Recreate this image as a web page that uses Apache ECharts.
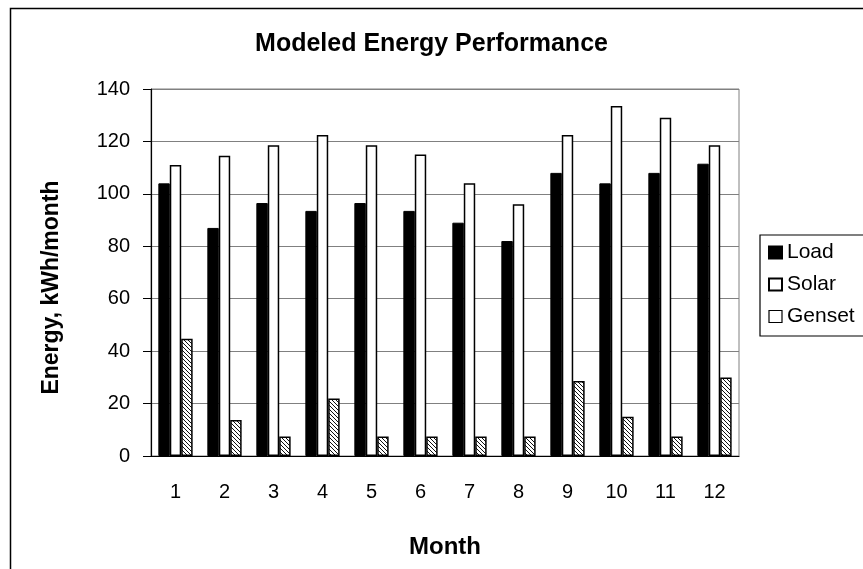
<!DOCTYPE html>
<html>
<head>
<meta charset="utf-8">
<script src="https://cdn.jsdelivr.net/npm/echarts@6/dist/echarts.min.js"></script>
<style>
html,body{margin:0;padding:0;background:#fff;}
#chart{width:863px;height:569px;}
</style>
</head>
<body>
<div id="chart"></div>
<script>
const months = ['1','2','3','4','5','6','7','8','9','10','11','12'];
const loadValues = [104, 87, 96.5, 93.5, 96.5, 93.5, 89, 82, 108, 104, 108, 111.5];
const solarValues = [111, 114.5, 118.5, 122.5, 118.5, 115, 104, 96, 122.5, 133.5, 129, 118.5];
const gensetValues = [44.7, 13.7, 7.4, 21.9, 7.4, 7.4, 7.4, 7.4, 28.6, 15, 7.4, 29.9];
const yTicks = [0, 20, 40, 60, 80, 100, 120, 140];

function hatch() {
  const s = 4;
  const c = document.createElement('canvas');
  c.width = s; c.height = s;
  const g = c.getContext('2d');
  g.fillStyle = '#fff';
  g.fillRect(0, 0, s, s);
  g.strokeStyle = '#111';
  g.lineWidth = 1;
  g.beginPath();
  g.moveTo(-1, -1); g.lineTo(s + 1, s + 1);
  g.moveTo(-1, s - 1); g.lineTo(1, s + 1);
  g.moveTo(s - 1, -1); g.lineTo(s + 1, 1);
  g.stroke();
  return c;
}

const chart = echarts.init(document.getElementById('chart'));
const font = 'Liberation Sans, Arial, sans-serif';
chart.setOption({
  animation: false,
  backgroundColor: '#fff',
  textStyle: { fontFamily: font },
  graphic: [{
    type: 'rect', z: 100, silent: true,
    shape: { x: 10.5, y: 8.5, width: 900, height: 620 },
    style: { fill: 'none', stroke: '#000', lineWidth: 1.5 }
  }],
  title: {
    text: 'Modeled Energy Performance',
    left: 'center', top: 32, padding: 0,
    textStyle: { fontFamily: font, fontWeight: 'bold', fontSize: 25, color: '#000' }
  },
  legend: {
    orient: 'vertical',
    left: 760, top: 235,
    padding: [7, 20, 9, 8],
    itemGap: 11,
    itemWidth: 13, itemHeight: 12,
    borderColor: '#000', borderWidth: 1.2,
    backgroundColor: '#fff',
    textStyle: { fontFamily: font, fontSize: 21, color: '#000' },
    data: [
      { name: 'Load', icon: 'rect' },
      { name: 'Solar', icon: 'rect' },
      { name: 'Genset', icon: 'rect', itemStyle: { color: '#fff', borderColor: '#000', borderWidth: 1.2 } }
    ]
  },
  grid: {
    left: 151, right: 124, top: 89, bottom: 113,
    show: true, borderColor: '#808080', borderWidth: 1
  },
  xAxis: {
    type: 'category',
    data: months,
    name: 'Month',
    nameLocation: 'middle',
    nameGap: 79,
    nameTextStyle: { fontFamily: font, fontWeight: 'bold', fontSize: 24, color: '#000' },
    axisLine: { lineStyle: { color: '#000', width: 1.2 } },
    axisTick: { length: 6, lineStyle: { color: '#000' } },
    axisLabel: { margin: 26, fontFamily: font, fontSize: 20, color: '#000' }
  },
  yAxis: {
    type: 'value',
    min: yTicks[0], max: yTicks[yTicks.length - 1], interval: 20,
    name: 'Energy, kWh/month',
    nameLocation: 'middle',
    nameGap: 88,
    nameTextStyle: { fontFamily: font, fontWeight: 'bold', fontSize: 23, color: '#000', padding: [0, 30, 0, 0] },
    axisLine: { show: true, lineStyle: { color: '#000', width: 1.2 } },
    axisTick: { show: true, length: 8, lineStyle: { color: '#000' } },
    axisLabel: { margin: 21, fontFamily: font, fontSize: 20, color: '#000' },
    splitLine: { lineStyle: { color: '#808080', width: 1 } }
  },
  series: [
    {
      name: 'Load', type: 'bar', data: loadValues,
      barGap: '0%', barCategoryGap: '30%',
      itemStyle: { color: '#000', borderColor: '#000', borderWidth: 1 }
    },
    {
      name: 'Solar', type: 'bar', data: solarValues,
      itemStyle: { color: '#fff', borderColor: '#000', borderWidth: 1.5 }
    },
    {
      name: 'Genset', type: 'bar', data: gensetValues,
      itemStyle: { color: { image: hatch(), repeat: 'repeat' }, borderColor: '#000', borderWidth: 1.5 }
    }
  ]
});
</script>
</body>
</html>
